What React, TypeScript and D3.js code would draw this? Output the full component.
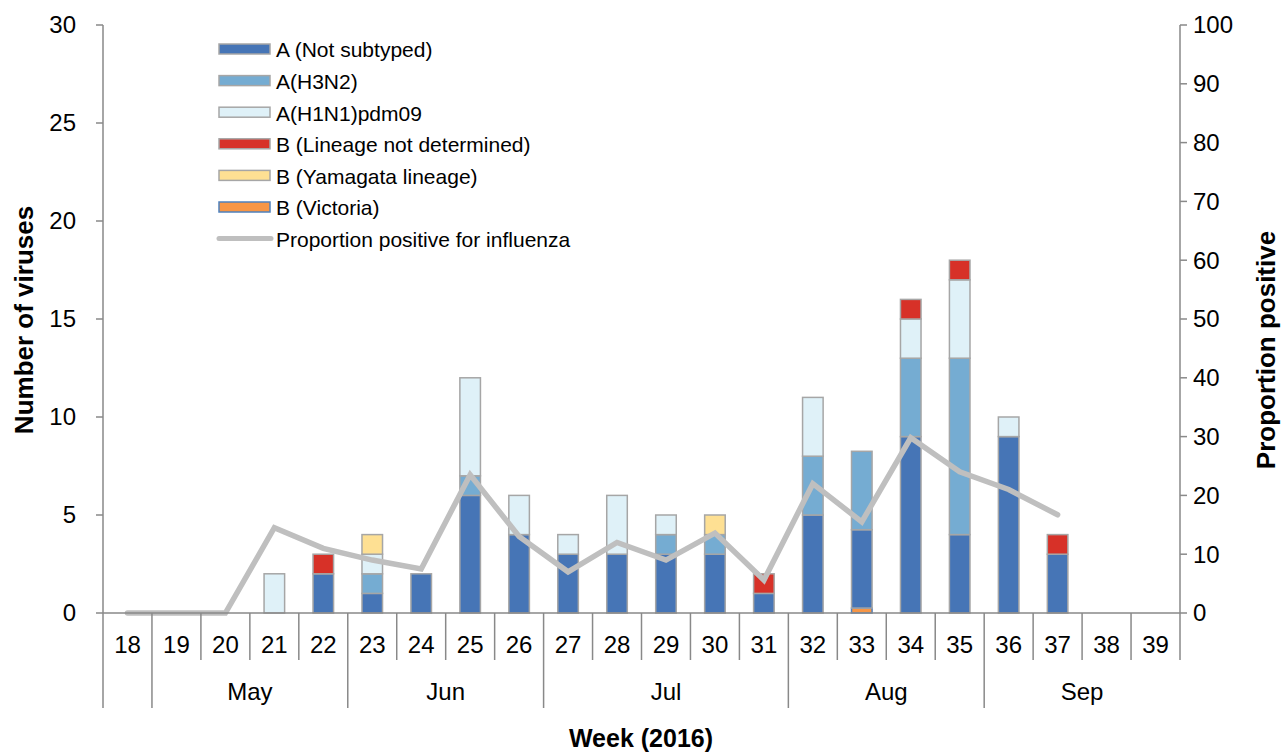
import * as d3 from "d3";
import React, { useEffect, useRef } from "react";

// weeks of 2016
const weeks = ["18", "19", "20", "21", "22", "23", "24", "25", "26", "27", "28", "29", "30", "31", "32", "33", "34", "35", "36", "37", "38", "39"];

// virus counts per week
const bVictoria = [0, 0, 0, 0, 0, 0, 0, 0, 0, 0, 0, 0, 0, 0, 0, 0.25, 0, 0, 0, 0, 0, 0];
const aNotSubtyped = [0, 0, 0, 0, 2, 1, 2, 6, 4, 3, 3, 3, 3, 1, 5, 4, 9, 4, 9, 3, 0, 0];
const aH3N2 = [0, 0, 0, 0, 0, 1, 0, 1, 0, 0, 0, 1, 1, 0, 3, 4, 4, 9, 0, 0, 0, 0];
const aH1N1 = [0, 0, 0, 2, 0, 1, 0, 5, 2, 1, 3, 1, 0, 0, 3, 0, 2, 4, 1, 0, 0, 0];
const bNotDetermined = [0, 0, 0, 0, 1, 0, 0, 0, 0, 0, 0, 0, 0, 1, 0, 0, 1, 1, 0, 1, 0, 0];
const bYamagata = [0, 0, 0, 0, 0, 1, 0, 0, 0, 0, 0, 0, 1, 0, 0, 0, 0, 0, 0, 0, 0, 0];

// proportion positive (%), null = no data
const proportion = [0, 0, 0, 14.5, 11, 9, 7.5, 23.5, 13, 7, 12, 9, 13.6, 5.6, 22, 15.5, 29.8, 24, 21, 16.7, null, null];

const months = ["", "May", "Jun", "Jul", "Aug", "Sep"];
const monthFirstWeek = ["18", "19", "23", "27", "32", "36"];

const leftTicks = [0, 5, 10, 15, 20, 25, 30];
const rightTicks = [0, 10, 20, 30, 40, 50, 60, 70, 80, 90, 100];

const seriesKeys = ["vic", "ns", "h3", "h1", "bnd", "yam"];
const seriesData = [bVictoria, aNotSubtyped, aH3N2, aH1N1, bNotDetermined, bYamagata];
const seriesFill = ["#f79646", "#4675b6", "#75acd2", "#dff1f8", "#d73128", "#fee093"];
const seriesStroke = ["#4f81bd", "#a6a6a6", "#a6a6a6", "#a6a6a6", "#a6a6a6", "#a6a6a6"];

const legendLabels = ["A (Not subtyped)", "A(H3N2)", "A(H1N1)pdm09", "B (Lineage not determined)", "B (Yamagata lineage)", "B (Victoria)"];
const legendOrder = [1, 2, 3, 4, 5, 0];

export default function App() {
    const ref = useRef<SVGSVGElement>(null);

    useEffect(() => {
        const svg = d3.select(ref.current);
        svg.selectAll("*").remove();

        const left = 103, right = 1180, top = 25, bottom = 613;
        const font = "Liberation Sans, Arial, sans-serif";
        const axisColor = "#898989";
        const tickSize = "24px";

        const x = d3.scaleBand().domain(weeks).range([left, right]).paddingInner(0.58).paddingOuter(0.29);
        const step = x.step();
        const y = d3.scaleLinear().domain([0, 30]).range([bottom, top]);
        const y2 = d3.scaleLinear().domain([0, 100]).range([bottom, top]);

        const table = weeks.map((w, i) => {
            const row: any = { week: w };
            seriesKeys.forEach((k, j) => (row[k] = seriesData[j][i]));
            return row;
        });
        const stacked = d3.stack().keys(seriesKeys)(table);

        // bars
        stacked.forEach((s, j) => {
            svg.append("g")
                .selectAll("rect")
                .data(s.filter((d) => d[1] - d[0] > 0))
                .enter()
                .append("rect")
                .attr("x", (d: any) => x(d.data.week)!)
                .attr("y", (d) => y(d[1]))
                .attr("width", x.bandwidth())
                .attr("height", (d) => y(d[0]) - y(d[1]))
                .attr("fill", seriesFill[j])
                .attr("stroke", seriesStroke[j])
                .attr("stroke-width", 1.5);
        });

        // proportion line
        const line = d3
            .line<number | null>()
            .defined((d) => d !== null)
            .x((d, i) => x(weeks[i])! + x.bandwidth() / 2)
            .y((d) => y2(d as number));
        svg.append("path")
            .attr("d", line(proportion))
            .attr("fill", "none")
            .attr("stroke", "#bfbfbf")
            .attr("stroke-width", 5.5)
            .attr("stroke-linecap", "round");

        // left axis
        svg.append("line").attr("x1", left).attr("x2", left).attr("y1", top).attr("y2", bottom)
            .attr("stroke", axisColor).attr("stroke-width", 1.5);
        leftTicks.forEach((t) => {
            svg.append("line").attr("x1", left - 7).attr("x2", left).attr("y1", y(t)).attr("y2", y(t))
                .attr("stroke", axisColor).attr("stroke-width", 1.5);
            svg.append("text").attr("x", left - 27).attr("y", y(t)).attr("dy", "0.35em")
                .attr("text-anchor", "end").style("font-family", font).style("font-size", tickSize).text(t);
        });

        // right axis
        svg.append("line").attr("x1", right).attr("x2", right).attr("y1", top).attr("y2", bottom)
            .attr("stroke", axisColor).attr("stroke-width", 1.5);
        rightTicks.forEach((t) => {
            svg.append("line").attr("x1", right).attr("x2", right + 7).attr("y1", y2(t)).attr("y2", y2(t))
                .attr("stroke", axisColor).attr("stroke-width", 1.5);
            svg.append("text").attr("x", right + 13).attr("y", y2(t)).attr("dy", "0.35em")
                .attr("text-anchor", "start").style("font-family", font).style("font-size", tickSize).text(t);
        });

        // x axis with week / month rows
        svg.append("line").attr("x1", left).attr("x2", right).attr("y1", bottom).attr("y2", bottom)
            .attr("stroke", axisColor).attr("stroke-width", 1.5);
        weeks.forEach((w) => {
            const x0 = x(w)! - (step - x.bandwidth()) / 2;
            const isMonth = monthFirstWeek.includes(w);
            svg.append("line").attr("x1", x0).attr("x2", x0).attr("y1", bottom).attr("y2", isMonth ? 708 : 660)
                .attr("stroke", axisColor).attr("stroke-width", 1.5);
            svg.append("text").attr("x", x(w)! + x.bandwidth() / 2).attr("y", 645).attr("dy", "0.35em")
                .attr("text-anchor", "middle").style("font-family", font).style("font-size", tickSize).text(w);
        });
        svg.append("line").attr("x1", right).attr("x2", right).attr("y1", bottom).attr("y2", 660)
            .attr("stroke", axisColor).attr("stroke-width", 1.5);
        months.forEach((m, i) => {
            const x0 = x(monthFirstWeek[i])! - (step - x.bandwidth()) / 2;
            const x1 = i + 1 < months.length ? x(monthFirstWeek[i + 1])! - (step - x.bandwidth()) / 2 : right;
            svg.append("text").attr("x", (x0 + x1) / 2).attr("y", 692).attr("dy", "0.35em")
                .attr("text-anchor", "middle").style("font-family", font).style("font-size", tickSize).text(m);
        });

        // axis titles
        svg.append("text").attr("transform", "translate(33,320) rotate(-90)").attr("text-anchor", "middle")
            .style("font-family", font).style("font-size", "26px").style("font-weight", "bold").text("Number of viruses");
        svg.append("text").attr("transform", "translate(1275,350) rotate(-90)").attr("text-anchor", "middle")
            .style("font-family", font).style("font-size", "26px").style("font-weight", "bold").text("Proportion positive");
        svg.append("text").attr("x", 641).attr("y", 747).attr("text-anchor", "middle")
            .style("font-family", font).style("font-size", "25px").style("font-weight", "bold").text("Week (2016)");

        // legend
        const legend = svg.append("g");
        legendOrder.forEach((j, i) => {
            const ly = 49 + i * 31.6;
            legend.append("rect").attr("x", 219).attr("y", ly - 5).attr("width", 51).attr("height", 10)
                .attr("fill", seriesFill[j]).attr("stroke", seriesStroke[j]).attr("stroke-width", 1.5);
            legend.append("text").attr("x", 276).attr("y", ly + 1).attr("dy", "0.35em")
                .style("font-family", font).style("font-size", "21px").text(legendLabels[i]);
        });
        const ly = 49 + 6 * 31.6;
        legend.append("line").attr("x1", 219).attr("x2", 271).attr("y1", ly).attr("y2", ly)
            .attr("stroke", "#bfbfbf").attr("stroke-width", 5).attr("stroke-linecap", "round");
        legend.append("text").attr("x", 276).attr("y", ly + 1).attr("dy", "0.35em")
            .style("font-family", font).style("font-size", "21px").text("Proportion positive for influenza");
    }, []);

    return (
        <svg
            ref={ref}
            width={1283}
            height={755}
            style={{ position: "absolute", left: 0, top: 0, background: "#fff" }}
        ></svg>
    );
}
